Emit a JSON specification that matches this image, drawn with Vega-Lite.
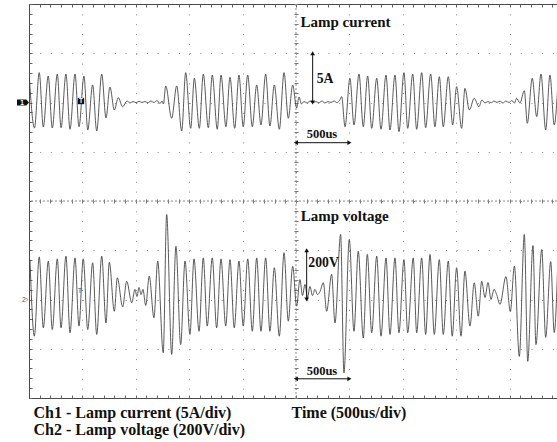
{
  "$schema": "https://vega.github.io/schema/vega-lite/v6.json",
  "width": 528,
  "height": 394,
  "autosize": {"type": "none"},
  "padding": {"left": 29, "top": 4, "right": 0, "bottom": 44},
  "background": "white",
  "config": {"view": {"stroke": null}},
  "datasets": {
    "cur": [
      {"t":3,"a":2.56},{"t":51,"a":-2.59},{"t":96,"a":3.03},{"t":134,"a":-2.49},{"t":180,"a":2.69},{"t":218,"a":-2.59},{"t":265,"a":2.89},{"t":300,"a":-2.56},{"t":346,"a":2.89},{"t":384,"a":-2.72},{"t":431,"a":2.89},{"t":468,"a":-2.46},{"t":515,"a":2.69},{"t":550,"a":-2.79},{"t":596,"a":1.78},{"t":634,"a":-2.89},{"t":681,"a":2.89},{"t":721,"a":-1.57},{"t":758,"a":1.57},{"t":799,"a":-0.76},{"t":836,"a":0.49},{"t":877,"a":-0.43},{"t":918,"a":0.15},{"t":946,"a":-0.05},{"t":974,"a":0.1},{"t":1002,"a":-0.02},{"t":1030,"a":0.12},{"t":1058,"a":0},{"t":1086,"a":0.1},{"t":1114,"a":-0.03},{"t":1142,"a":0.15},{"t":1170,"a":0},{"t":1198,"a":0.2},{"t":1227,"a":-0.1},{"t":1245,"a":0.15},{"t":1259,"a":-0.15},{"t":1280,"a":1.68},{"t":1336,"a":-1.6},{"t":1383,"a":1.68},{"t":1430,"a":-2.89},{"t":1467,"a":3.03},{"t":1514,"a":-2.62},{"t":1548,"a":2.46},{"t":1595,"a":-2.62},{"t":1632,"a":2.89},{"t":1679,"a":-2.56},{"t":1716,"a":2.79},{"t":1763,"a":-2.72},{"t":1798,"a":2.79},{"t":1844,"a":-2.46},{"t":1882,"a":2.56},{"t":1926,"a":-2.62},{"t":1966,"a":2.79},{"t":2006,"a":-2.46},{"t":2048,"a":2.79},{"t":2091,"a":-2.46},{"t":2132,"a":1.78},{"t":2172,"a":-2.28},{"t":2216,"a":2.89},{"t":2256,"a":-2.39},{"t":2297,"a":1.78},{"t":2344,"a":-2.72},{"t":2388,"a":3.03},{"t":2428,"a":-1.6},{"t":2469,"a":1.78},{"t":2506,"a":-0.56},{"t":2528,"a":0.56},{"t":2551,"a":-0.15},{"t":2575,"a":0.1},{"t":2603,"a":-0.05},{"t":2631,"a":0.13},{"t":2659,"a":-0.03},{"t":2687,"a":0.1},{"t":2715,"a":-0.03},{"t":2743,"a":0.15},{"t":2771,"a":-0.05},{"t":2800,"a":0.1},{"t":2828,"a":0},{"t":2856,"a":0.15},{"t":2884,"a":-0.02},{"t":2907,"a":0.2},{"t":2928,"a":0.59},{"t":2959,"a":-2.46},{"t":3005,"a":2.46},{"t":3043,"a":-2.28},{"t":3090,"a":2.89},{"t":3130,"a":-2.46},{"t":3171,"a":2.69},{"t":3209,"a":-2.62},{"t":3256,"a":2.46},{"t":3296,"a":-2.72},{"t":3343,"a":2.79},{"t":3380,"a":-2.79},{"t":3427,"a":2.79},{"t":3464,"a":-2.96},{"t":3511,"a":3.03},{"t":3546,"a":-2.62},{"t":3593,"a":2.89},{"t":3630,"a":-2.72},{"t":3677,"a":3.03},{"t":3714,"a":-2.56},{"t":3761,"a":2.89},{"t":3801,"a":-2.46},{"t":3842,"a":2.62},{"t":3879,"a":-2.46},{"t":3926,"a":2.62},{"t":3967,"a":-2.28},{"t":4004,"a":1.6},{"t":4051,"a":-2.62},{"t":4082,"a":1.44},{"t":4123,"a":-0.76},{"t":4169,"a":0.43},{"t":4213,"a":-0.43},{"t":4241,"a":0.25},{"t":4270,"a":-0.05},{"t":4298,"a":0.1},{"t":4326,"a":-0.03},{"t":4354,"a":0.15},{"t":4382,"a":0},{"t":4410,"a":0.13},{"t":4438,"a":-0.05},{"t":4466,"a":0.15},{"t":4494,"a":0},{"t":4522,"a":0.2},{"t":4546,"a":-0.05},{"t":4566,"a":0.43},{"t":4597,"a":-0.05},{"t":4638,"a":1.2},{"t":4666,"a":-2.11},{"t":4712,"a":2.46},{"t":4754,"a":-1.44},{"t":4794,"a":2.89},{"t":4838,"a":-2.79},{"t":4878,"a":2.79},{"t":4918,"a":-2.28},{"t":4953,"a":1.98}
    ],
    "vol": [
      {"t":9,"v":162},{"t":50,"v":-149},{"t":96,"v":173},{"t":134,"v":-115},{"t":181,"v":156},{"t":218,"v":-122},{"t":265,"v":165},{"t":300,"v":-115},{"t":346,"v":176},{"t":384,"v":-135},{"t":431,"v":169},{"t":468,"v":-108},{"t":508,"v":165},{"t":550,"v":-122},{"t":596,"v":149},{"t":634,"v":-142},{"t":681,"v":176},{"t":721,"v":-95},{"t":752,"v":151},{"t":799,"v":-48},{"t":827,"v":88},{"t":877,"v":-30},{"t":915,"v":74},{"t":962,"v":-13},{"t":992,"v":41},{"t":1011,"v":12},{"t":1030,"v":49},{"t":1049,"v":20},{"t":1067,"v":41},{"t":1093,"v":-24},{"t":1126,"v":95},{"t":1170,"v":-74},{"t":1205,"v":156},{"t":1257,"v":-216},{"t":1289,"v":345},{"t":1336,"v":-223},{"t":1376,"v":216},{"t":1420,"v":-183},{"t":1461,"v":156},{"t":1507,"v":-142},{"t":1545,"v":165},{"t":1592,"v":-129},{"t":1632,"v":169},{"t":1669,"v":-108},{"t":1716,"v":169},{"t":1757,"v":-115},{"t":1798,"v":165},{"t":1842,"v":-108},{"t":1882,"v":162},{"t":1922,"v":-115},{"t":1966,"v":156},{"t":2006,"v":-108},{"t":2048,"v":165},{"t":2091,"v":-129},{"t":2132,"v":169},{"t":2172,"v":-129},{"t":2216,"v":169},{"t":2256,"v":-129},{"t":2297,"v":129},{"t":2344,"v":-149},{"t":2388,"v":190},{"t":2428,"v":-88},{"t":2469,"v":135},{"t":2506,"v":-27},{"t":2537,"v":81},{"t":2561,"v":16},{"t":2584,"v":61},{"t":2608,"v":8},{"t":2631,"v":53},{"t":2654,"v":16},{"t":2678,"v":41},{"t":2701,"v":20},{"t":2725,"v":32},{"t":2756,"v":68},{"t":2787,"v":-48},{"t":2834,"v":102},{"t":2865,"v":-95},{"t":2918,"v":264},{"t":2949,"v":-298},{"t":2999,"v":244},{"t":3043,"v":-129},{"t":3083,"v":196},{"t":3130,"v":-156},{"t":3168,"v":183},{"t":3209,"v":-135},{"t":3256,"v":176},{"t":3296,"v":-149},{"t":3343,"v":169},{"t":3380,"v":-142},{"t":3427,"v":169},{"t":3464,"v":-135},{"t":3511,"v":162},{"t":3546,"v":-135},{"t":3598,"v":169},{"t":3630,"v":-135},{"t":3677,"v":169},{"t":3714,"v":-142},{"t":3755,"v":183},{"t":3795,"v":-142},{"t":3842,"v":162},{"t":3879,"v":-142},{"t":3926,"v":156},{"t":3963,"v":-149},{"t":4004,"v":129},{"t":4045,"v":-149},{"t":4082,"v":115},{"t":4129,"v":-108},{"t":4169,"v":68},{"t":4207,"v":-68},{"t":4239,"v":74},{"t":4270,"v":8},{"t":4298,"v":69},{"t":4326,"v":0},{"t":4354,"v":41},{"t":4382,"v":16},{"t":4410,"v":-20},{"t":4466,"v":93},{"t":4507,"v":-49},{"t":4545,"v":135},{"t":4591,"v":-231},{"t":4638,"v":264},{"t":4670,"v":-251},{"t":4719,"v":219},{"t":4747,"v":-183},{"t":4801,"v":203},{"t":4838,"v":-154},{"t":4885,"v":154},{"t":4918,"v":-134},{"t":4953,"v":170}
    ]
  },
  "layer": [
    {
      "data": {"values": [{}]},
      "mark": {"type": "rule", "stroke": "#8a8a8a", "strokeDash": [2, 2], "strokeWidth": 1},
      "encoding": {
        "x": {"datum": 2500, "type": "quantitative", "scale": {"domain": [0, 4944], "nice": false, "zero": false},
          "axis": {"orient": "bottom", "offset": -199, "values": [0,100,200,300,400,500,600,700,800,900,1000,1100,1200,1300,1400,1500,1600,1700,1800,1900,2000,2100,2200,2300,2400,2500,2600,2700,2800,2900,3000,3100,3200,3300,3400,3500,3600,3700,3800,3900,4000,4100,4200,4300,4400,4500,4600,4700,4800,4900],
            "ticks": true, "tickSize": 4, "tickColor": "#777", "tickWidth": 1, "domain": false, "labels": false, "grid": false, "title": null}}
      }
    },
    {
      "data": {"values": [{}]},
      "mark": {"type": "rule", "stroke": "#8a8a8a", "strokeDash": [2, 2], "strokeWidth": 1},
      "encoding": {
        "y": {"datum": 400, "type": "quantitative", "scale": {"domain": [-400, 1200], "nice": false, "zero": false},
          "axis": {"orient": "left", "offset": -269, "values": [-400,-360,-320,-280,-240,-200,-160,-120,-80,-40,0,40,80,120,160,200,240,280,320,360,400,440,480,520,560,600,640,680,720,760,800,840,880,920,960,1000,1040,1080,1120,1160,1200],
            "ticks": true, "tickSize": 4, "tickColor": "#777", "tickWidth": 1, "domain": false, "labels": false, "grid": false, "title": null}}
      }
    },
    {
      "data": {"name": "cur"},
      "mark": {"type": "line", "stroke": "#3c3c3c", "strokeWidth": 0.85, "interpolate": "monotone", "clip": true},
      "encoding": {
        "x": {"field": "t", "type": "quantitative", "scale": {"domain": [0, 4944], "nice": false, "zero": false},
          "axis": {"orient": "bottom", "values": [0,100,200,300,400,500,600,700,800,900,1000,1100,1200,1300,1400,1500,1600,1700,1800,1900,2000,2100,2200,2300,2400,2500,2600,2700,2800,2900,3000,3100,3200,3300,3400,3500,3600,3700,3800,3900,4000,4100,4200,4300,4400,4500,4600,4700,4800,4900],
            "ticks": true, "tickSize": -3, "tickColor": "#666", "domain": true, "domainColor": "#4a4a4a", "labels": false, "grid": false,
            "title": ["Ch1 - Lamp current (5A/div)", "Ch2 - Lamp voltage (200V/div)"],
            "titleAnchor": "start", "titleAlign": "left", "titleX": 4, "titleY": 19.5, "titleBaseline": "alphabetic",
            "titleFont": "Liberation Serif", "titleFontSize": 16, "titleFontWeight": "bold", "titleColor": "#111", "titleLineHeight": 16.5}},
        "y": {"field": "a", "type": "quantitative", "scale": {"domain": [-30, 10], "nice": false, "zero": false},
          "axis": {"orient": "left", "values": [-30,-29,-28,-27,-26,-25,-24,-23,-22,-21,-20,-19,-18,-17,-16,-15,-14,-13,-12,-11,-10,-9,-8,-7,-6,-5,-4,-3,-2,-1,0,1,2,3,4,5,6,7,8,9,10],
            "ticks": true, "tickSize": -3, "tickColor": "#666", "domain": true, "domainColor": "#4a4a4a", "labels": false, "grid": false, "title": null}}
      }
    },
    {
      "data": {"name": "vol"},
      "mark": {"type": "line", "stroke": "#3c3c3c", "strokeWidth": 0.85, "interpolate": "monotone", "clip": true},
      "encoding": {
        "x": {"field": "t", "type": "quantitative", "scale": {"domain": [0, 4944], "nice": false, "zero": false},
          "axis": {"orient": "top", "values": [0,100,200,300,400,500,600,700,800,900,1000,1100,1200,1300,1400,1500,1600,1700,1800,1900,2000,2100,2200,2300,2400,2500,2600,2700,2800,2900,3000,3100,3200,3300,3400,3500,3600,3700,3800,3900,4000,4100,4200,4300,4400,4500,4600,4700,4800,4900],
            "ticks": true, "tickSize": -3, "tickColor": "#666", "domain": true, "domainColor": "#4a4a4a", "labels": false, "grid": false, "title": null}},
        "y": {"field": "v", "type": "quantitative", "scale": {"domain": [-400, 1200], "nice": false, "zero": false},
          "axis": {"orient": "left", "values": [-400,-200,0,200,400,600,800,1000,1200], "ticks": false, "domain": false, "labels": false,
            "grid": true, "gridColor": "#8a8a8a", "gridDash": [1, 9.68], "gridWidth": 1, "title": null}}
      }
    },
    {
      "data": {"values": [{"t": 2656, "t2": 2656, "a": 0, "a2": 5}, {"t": 2500, "t2": 3000, "a": -4.08, "a2": -4.08}]},
      "mark": {"type": "rule", "stroke": "#111", "strokeWidth": 1},
      "encoding": {
        "x": {"field": "t", "type": "quantitative", "scale": {"domain": [0, 4944], "nice": false, "zero": false},
          "axis": {"orient": "bottom", "values": [0,500,1000,1500,2000,2500,3000,3500,4000,4500], "ticks": false, "domain": false, "labels": false,
            "grid": true, "gridColor": "#8a8a8a", "gridDash": [1, 8.85], "gridWidth": 1,
            "title": "Time (500us/div)", "titleAnchor": "start", "titleAlign": "left", "titleX": 262, "titleY": 19.5, "titleBaseline": "alphabetic",
            "titleFont": "Liberation Serif", "titleFontSize": 16, "titleFontWeight": "bold", "titleColor": "#111"}},
        "x2": {"field": "t2"},
        "y": {"field": "a", "type": "quantitative", "scale": {"domain": [-30, 10], "nice": false, "zero": false}, "axis": null},
        "y2": {"field": "a2"}
      }
    },
    {
      "data": {"values": [{"t": 2656, "a": 5, "d": "up"}, {"t": 2656, "a": 0, "d": "down"}, {"t": 2500, "a": -4.08, "d": "left"}, {"t": 3000, "a": -4.08, "d": "right"}]},
      "mark": {"type": "point", "filled": true, "fill": "#111", "opacity": 1, "size": 22},
      "encoding": {
        "x": {"field": "t", "type": "quantitative", "scale": {"domain": [0, 4944], "nice": false, "zero": false}, "axis": null},
        "y": {"field": "a", "type": "quantitative", "scale": {"domain": [-30, 10], "nice": false, "zero": false}, "axis": null},
        "shape": {"field": "d", "type": "nominal", "scale": {"domain": ["up", "down", "left", "right"], "range": ["triangle-up", "triangle-down", "triangle-left", "triangle-right"]}, "legend": null}
      }
    },
    {
      "data": {"values": [{"t": 2542, "a": 7.66, "s": "Lamp current", "k": "title"}, {"t": 2694, "a": 1.98, "s": "5A", "k": "label"}, {"t": 2600, "a": -3.6, "s": "500us", "k": "small"}]},
      "mark": {"type": "text", "align": "left", "baseline": "alphabetic", "font": "Liberation Serif", "fontWeight": "bold", "fill": "#111"},
      "encoding": {
        "x": {"field": "t", "type": "quantitative", "scale": {"domain": [0, 4944], "nice": false, "zero": false}, "axis": null},
        "y": {"field": "a", "type": "quantitative", "scale": {"domain": [-30, 10], "nice": false, "zero": false}, "axis": null},
        "text": {"field": "s"},
        "size": {"field": "k", "type": "nominal", "scale": {"domain": ["title", "label", "small"], "range": [15, 12.5, 11.5]}, "legend": null}
      }
    },
    {
      "data": {"values": [{"t": 2600, "t2": 2600, "v": 0, "v2": 200}, {"t": 2500, "t2": 3000, "v": -322, "v2": -322}]},
      "mark": {"type": "rule", "stroke": "#111", "strokeWidth": 1},
      "encoding": {
        "x": {"field": "t", "type": "quantitative", "scale": {"domain": [0, 4944], "nice": false, "zero": false}, "axis": null},
        "x2": {"field": "t2"},
        "y": {"field": "v", "type": "quantitative", "scale": {"domain": [-400, 1200], "nice": false, "zero": false}, "axis": null},
        "y2": {"field": "v2"}
      }
    },
    {
      "data": {"values": [{"t": 2600, "v": 200, "d": "up"}, {"t": 2600, "v": 0, "d": "down"}, {"t": 2500, "v": -322, "d": "left"}, {"t": 3000, "v": -322, "d": "right"}]},
      "mark": {"type": "point", "filled": true, "fill": "#111", "opacity": 1, "size": 22},
      "encoding": {
        "x": {"field": "t", "type": "quantitative", "scale": {"domain": [0, 4944], "nice": false, "zero": false}, "axis": null},
        "y": {"field": "v", "type": "quantitative", "scale": {"domain": [-400, 1200], "nice": false, "zero": false}, "axis": null},
        "shape": {"field": "d", "type": "nominal", "scale": {"domain": ["up", "down", "left", "right"], "range": ["triangle-up", "triangle-down", "triangle-left", "triangle-right"]}, "legend": null}
      }
    },
    {
      "data": {"values": [{"t": 2544, "v": 318, "s": "Lamp voltage", "k": "title"}, {"t": 2615, "v": 130, "s": "200V", "k": "label"}, {"t": 2600, "v": -305, "s": "500us", "k": "small"}]},
      "mark": {"type": "text", "align": "left", "baseline": "alphabetic", "font": "Liberation Serif", "fontWeight": "bold", "fill": "#111"},
      "encoding": {
        "x": {"field": "t", "type": "quantitative", "scale": {"domain": [0, 4944], "nice": false, "zero": false}, "axis": null},
        "y": {"field": "v", "type": "quantitative", "scale": {"domain": [-400, 1200], "nice": false, "zero": false}, "axis": null},
        "text": {"field": "s"},
        "size": {"field": "k", "type": "nominal", "scale": {"domain": ["title", "label", "small"], "range": [15, 12.5, 11.5]}, "legend": null}
      }
    },
    {
      "data": {"values": [{"t": -56, "a": 0, "m": "ch"}, {"t": 487, "a": 0.15, "m": "trig"}]},
      "mark": {"type": "point", "filled": true, "fill": "#111", "opacity": 1},
      "encoding": {
        "x": {"field": "t", "type": "quantitative", "scale": {"domain": [0, 4944], "nice": false, "zero": false}, "axis": null},
        "y": {"field": "a", "type": "quantitative", "scale": {"domain": [-30, 10], "nice": false, "zero": false}, "axis": null},
        "shape": {"field": "m", "type": "nominal", "scale": {"domain": ["ch", "trig"], "range": ["M-1,-0.5L0.55,-0.5L1,0L0.55,0.5L-1,0.5Z", "square"]}, "legend": null},
        "size": {"field": "m", "type": "nominal", "scale": {"domain": ["ch", "trig"], "range": [144, 40]}, "legend": null}
      }
    },
    {
      "data": {"values": [{"t": -66, "a": 0, "s": "1"}, {"t": 487, "a": 0.15, "s": "T"}]},
      "mark": {"type": "text", "align": "center", "baseline": "middle", "font": "Liberation Sans", "fontWeight": "bold", "fontSize": 6.5, "fill": "white"},
      "encoding": {
        "x": {"field": "t", "type": "quantitative", "scale": {"domain": [0, 4944], "nice": false, "zero": false}, "axis": null},
        "y": {"field": "a", "type": "quantitative", "scale": {"domain": [-30, 10], "nice": false, "zero": false}, "axis": null},
        "text": {"field": "s"}
      }
    },
    {
      "data": {"values": [{"t": -37, "v": 0, "s": "2›"}, {"t": 477, "v": 34, "s": "T"}]},
      "mark": {"type": "text", "align": "center", "baseline": "middle", "font": "Liberation Sans", "fontSize": 7, "fill": "#555"},
      "encoding": {
        "x": {"field": "t", "type": "quantitative", "scale": {"domain": [0, 4944], "nice": false, "zero": false}, "axis": null},
        "y": {"field": "v", "type": "quantitative", "scale": {"domain": [-400, 1200], "nice": false, "zero": false}, "axis": null},
        "text": {"field": "s"}
      }
    }
  ],
  "resolve": {
    "scale": {"y": "independent", "shape": "independent", "size": "independent"},
    "axis": {"x": "independent", "y": "independent"}
  }
}
